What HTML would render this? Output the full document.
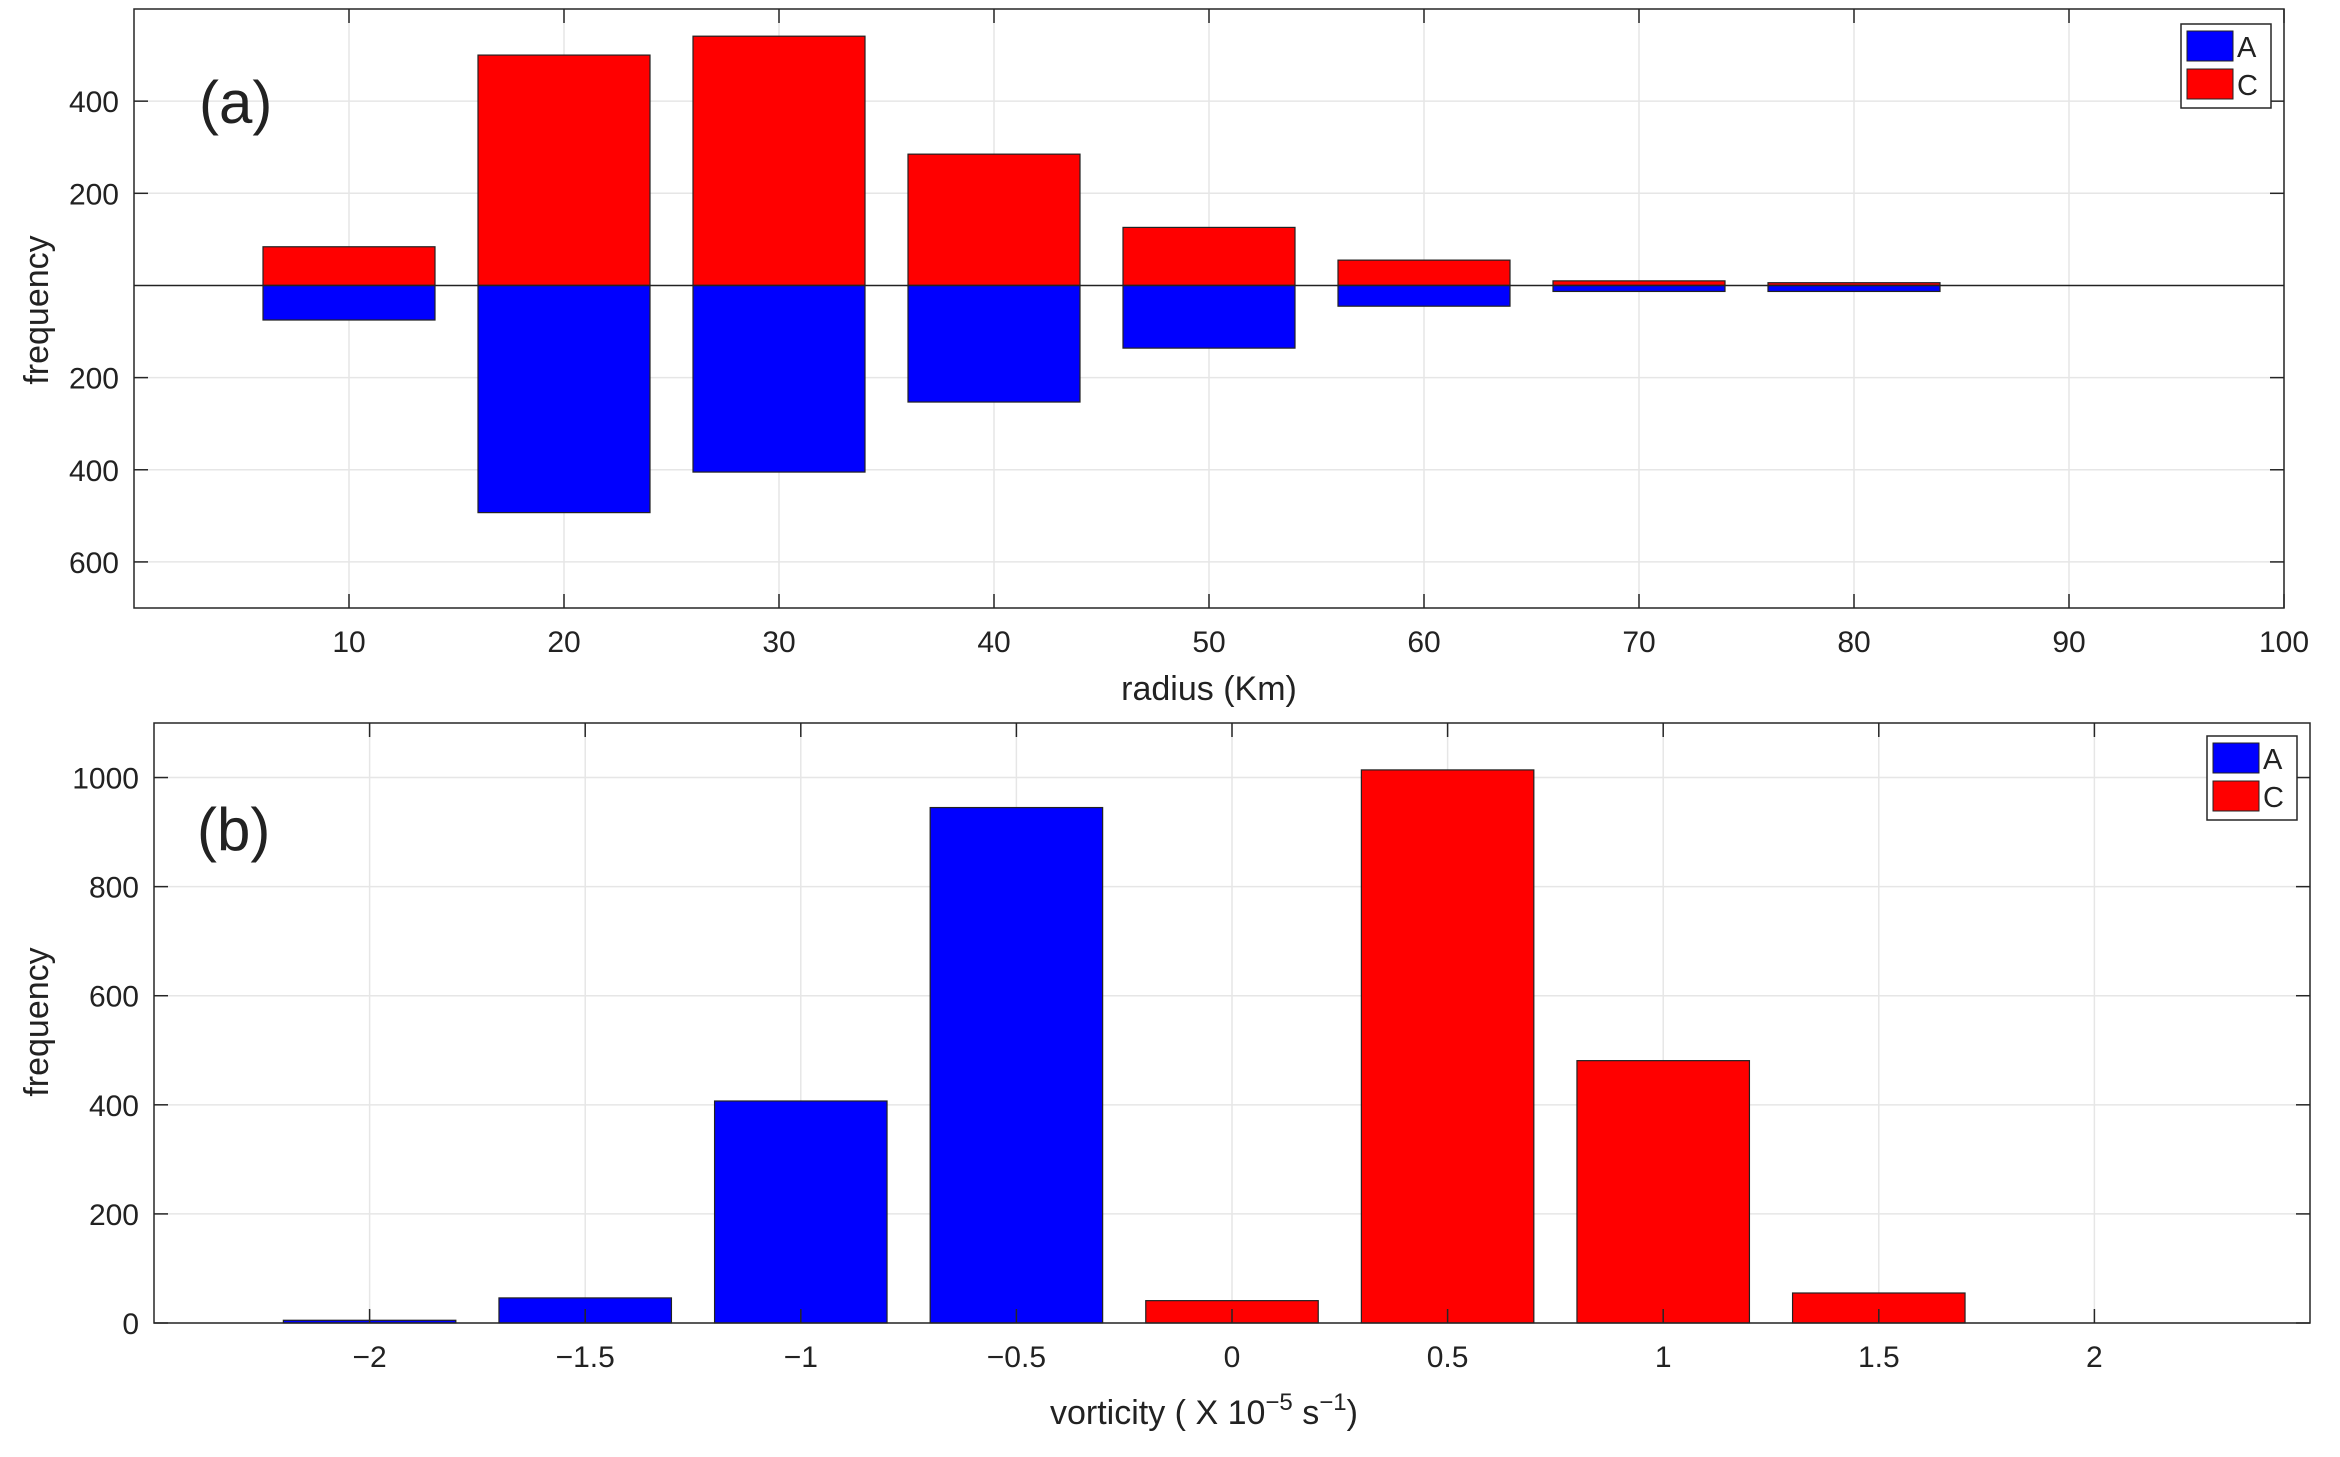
<!DOCTYPE html>
<html><head><meta charset="utf-8"><style>
html,body{margin:0;padding:0;background:#fff;}
svg text{font-family:"Liberation Sans",sans-serif;fill:#222;}
</style></head><body>
<svg id="s" width="2340" height="1452" xmlns="http://www.w3.org/2000/svg"></svg>
<script>
// Panel (a) data
const radiusCats=[10,20,30,40,50,60,70,80];
const radiusC=[84,500,541,285,126,55,10,6];
const radiusA=[75,493,405,253,136,45,13,13];
const aXTicks=[10,20,30,40,50,60,70,80,90,100];
const aYTicks=[-600,-400,-200,200,400];
const aYTickLabels=['600','400','200','200','400'];
// Panel (b) data
const vortCats=[-2,-1.5,-1,-0.5,0,0.5,1,1.5];
const vortVals=[5,46,407,945,41,1014,481,55];
const vortSign=['A','A','A','A','C','C','C','C'];
const bXTicks=[-2,-1.5,-1,-0.5,0,0.5,1,1.5,2];
const bXTickLabels=['\u22122','\u22121.5','\u22121','\u22120.5','0','0.5','1','1.5','2'];
const bYTicks=[0,200,400,600,800,1000];

const NS='http://www.w3.org/2000/svg';
const svg=document.getElementById('s');
function mk(tag,attrs,parent,txt){const e=document.createElementNS(NS,tag);for(const k in attrs)e.setAttribute(k,attrs[k]);if(txt!==undefined)e.textContent=txt;(parent||svg).appendChild(e);return e;}

function panel(o){
  const g=mk('g',{});
  
  
  const sx=v=>o.x0+(v-o.xmin)/(o.xmax-o.xmin)*(o.x1-o.x0);
  const sy=v=>o.y1-(v-o.ymin)/(o.ymax-o.ymin)*(o.y1-o.y0);
  o.xt.forEach(t=>{const l=mk('line',{x1:sx(t),x2:sx(t),y1:o.y0,y2:o.y1,stroke:'#e6e6e6','stroke-width':1.5},g);});
  o.yt.forEach(t=>{const l=mk('line',{x1:o.x0,x2:o.x1,y1:sy(t),y2:sy(t),stroke:'#e6e6e6','stroke-width':1.5},g);});
  return {g,sx,sy};
}
function frame(o,p){
  const g=p.g;
  const r=mk('rect',{x:o.x0,y:o.y0,width:o.x1-o.x0,height:o.y1-o.y0,fill:'none',stroke:'#262626','stroke-width':1.5},g);
  
  o.xt.forEach((t,i)=>{
    mk('line',{x1:p.sx(t),x2:p.sx(t),y1:o.y1,y2:o.y1-14,stroke:'#262626','stroke-width':1.5},g);
    mk('line',{x1:p.sx(t),x2:p.sx(t),y1:o.y0,y2:o.y0+14,stroke:'#262626','stroke-width':1.5},g);
    const tx=mk('text',{x:p.sx(t),y:o.y1+44,'font-size':30,'text-anchor':'middle'},g,o.xl[i]);
    
  });
  o.yt.forEach((t,i)=>{
    mk('line',{x1:o.x0,x2:o.x0+14,y1:p.sy(t),y2:p.sy(t),stroke:'#262626','stroke-width':1.5},g);
    mk('line',{x1:o.x1,x2:o.x1-14,y1:p.sy(t),y2:p.sy(t),stroke:'#262626','stroke-width':1.5},g);
    const tx=mk('text',{x:o.x0-15,y:p.sy(t)+11,'font-size':30,'text-anchor':'end'},g,o.yl[i]);
    
  });
}
function legend(g,x,y){
  const r=mk('rect',{x:x,y:y,width:90,height:84,fill:'#fff',stroke:'#262626','stroke-width':1.5},g);
  
  [['A','#0000ff'],['C','#ff0000']].forEach((e,i)=>{
    const s=mk('rect',{x:x+6,y:y+7+i*38,width:46,height:30,fill:e[1],stroke:'#222','stroke-width':1},g);
    
    const t=mk('text',{x:x+56,y:y+33+i*38,'font-size':29},g,e[0]);
    
  });
}

// Panel a
const oa={name:'panel-a',x0:134,x1:2284,y0:9,y1:608,xmin:0,xmax:100,ymin:-700,ymax:600,xt:aXTicks,xl:aXTicks.map(String),yt:aYTicks,yl:aYTickLabels};
const pa=panel(oa);
radiusCats.forEach((c,i)=>{
  const x=pa.sx(c-4),w=pa.sx(c+4)-x;
  const rc=mk('rect',{x:x,y:pa.sy(radiusC[i]),width:w,height:pa.sy(0)-pa.sy(radiusC[i]),fill:'#ff0000',stroke:'#222','stroke-width':1.2},pa.g);
  
  const ra=mk('rect',{x:x,y:pa.sy(0),width:w,height:pa.sy(-radiusA[i])-pa.sy(0),fill:'#0000ff',stroke:'#222','stroke-width':1.2},pa.g);
  
});
const zl=mk('line',{x1:oa.x0,x2:oa.x1,y1:pa.sy(0),y2:pa.sy(0),stroke:'#222','stroke-width':1.5},pa.g);

frame(oa,pa);
legend(pa.g,2181,24);
let t=mk('text',{x:199,y:123,'font-size':60},pa.g,'(a)');
t=mk('text',{x:1209,y:700,'font-size':34,'text-anchor':'middle'},pa.g,'radius (Km)');
t=mk('text',{x:48,y:310,'font-size':34,'text-anchor':'middle',transform:'rotate(-90 48 310)'},pa.g,'frequency');

// Panel b
const ob={name:'panel-b',x0:154,x1:2310,y0:723,y1:1323,xmin:-2.5,xmax:2.5,ymin:0,ymax:1100,xt:bXTicks,xl:bXTickLabels,yt:bYTicks,yl:bYTicks.map(String)};
const pb=panel(ob);
vortCats.forEach((c,i)=>{
  const x=pb.sx(c-0.2),w=pb.sx(c+0.2)-x;
  const r=mk('rect',{x:x,y:pb.sy(vortVals[i]),width:w,height:pb.sy(0)-pb.sy(vortVals[i]),fill:vortSign[i]==='A'?'#0000ff':'#ff0000',stroke:'#222','stroke-width':1.2},pb.g);
  
});
frame(ob,pb);
legend(pb.g,2207,736);
t=mk('text',{x:197,y:850,'font-size':60},pb.g,'(b)');
t=mk('text',{x:1050,y:1424,'font-size':34},pb.g);
t.innerHTML='vorticity ( X 10<tspan dy="-14" font-size="24">\u22125</tspan><tspan dy="14"> s</tspan><tspan dy="-14" font-size="24">\u22121</tspan><tspan dy="14">)</tspan>';
t=mk('text',{x:48,y:1022,'font-size':34,'text-anchor':'middle',transform:'rotate(-90 48 1022)'},pb.g,'frequency');
</script>
</body></html>
